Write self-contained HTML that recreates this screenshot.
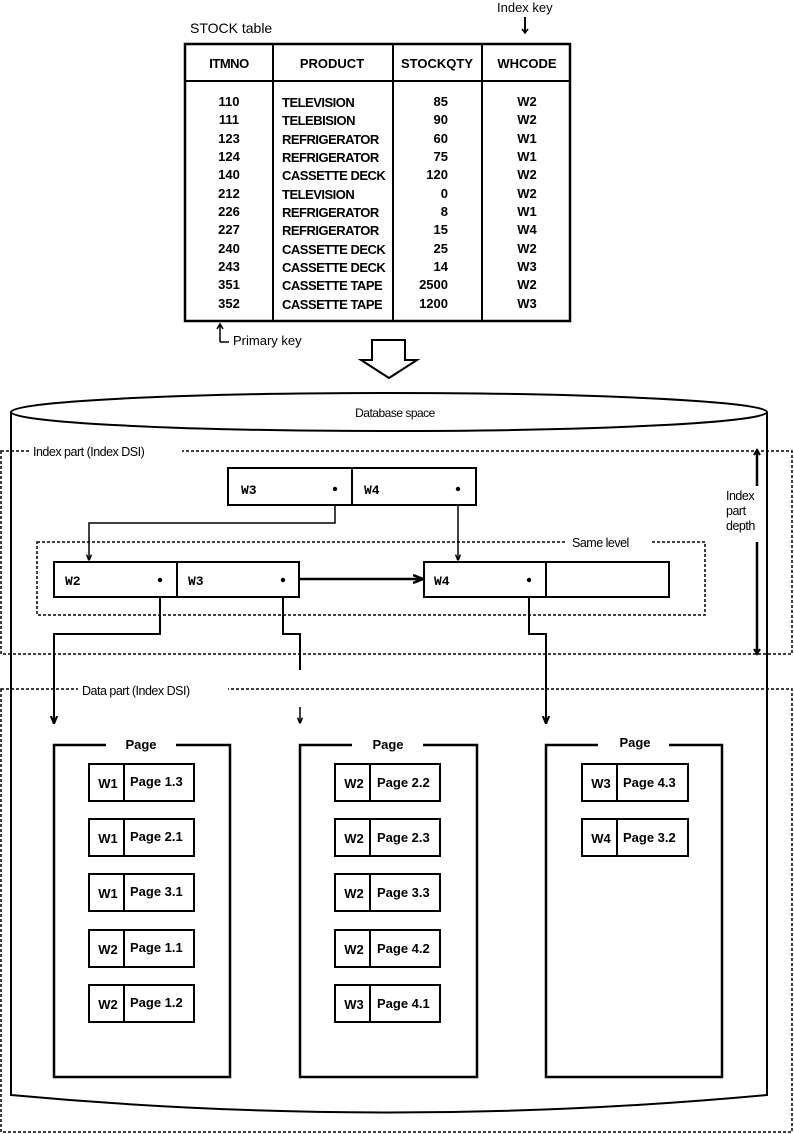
<!DOCTYPE html>
<html><head><meta charset="utf-8"><style>
html,body{margin:0;padding:0;background:#fff}
svg{display:block}
text{font-family:"Liberation Sans",sans-serif;font-size:13px;fill:#000}
.b{font-weight:bold}
.m{font-family:"Liberation Mono",monospace;font-weight:bold;font-size:14px}
</style></head><body>
<svg width="794" height="1134" viewBox="0 0 794 1134" xmlns="http://www.w3.org/2000/svg">
<defs>
<marker id="ah" viewBox="0 0 10 10" refX="9" refY="5" markerWidth="4" markerHeight="4" orient="auto"><path d="M0,1 L10,5 L0,9" fill="none" stroke="#000" stroke-width="2.5"/></marker>
</defs>
<!-- table -->
<text x="190" y="33" style="font-size:14px">STOCK table</text>
<text x="497" y="12" style="font-size:13px">Index key</text>
<line x1="525" y1="17" x2="525" y2="32" stroke="#000" stroke-width="2"/>
<path d="M522,29 L525,33 L528,29" fill="none" stroke="#000" stroke-width="1.5"/>
<rect x="185" y="44" width="385" height="277" fill="none" stroke="#000" stroke-width="2.5"/>
<line x1="185" y1="81" x2="570" y2="81" stroke="#000" stroke-width="2"/>
<line x1="273" y1="44" x2="273" y2="321" stroke="#000" stroke-width="2"/>
<line x1="393" y1="44" x2="393" y2="321" stroke="#000" stroke-width="2"/>
<line x1="482" y1="44" x2="482" y2="321" stroke="#000" stroke-width="2"/>
<g class="b" style="font-size:14px">
<text x="229" y="68" text-anchor="middle" style="letter-spacing:-0.5px">ITMNO</text>
<text x="332" y="68" text-anchor="middle">PRODUCT</text>
<text x="437" y="68" text-anchor="middle">STOCKQTY</text>
<text x="527" y="68" text-anchor="middle">WHCODE</text>
</g>
<g class="m" style="font-size:14px">
<text x="229" y="106" text-anchor="middle">110</text>
<text x="229" y="124" text-anchor="middle">111</text>
<text x="229" y="143" text-anchor="middle">123</text>
<text x="229" y="161" text-anchor="middle">124</text>
<text x="229" y="179" text-anchor="middle">140</text>
<text x="229" y="198" text-anchor="middle">212</text>
<text x="229" y="216" text-anchor="middle">226</text>
<text x="229" y="234" text-anchor="middle">227</text>
<text x="229" y="253" text-anchor="middle">240</text>
<text x="229" y="271" text-anchor="middle">243</text>
<text x="229" y="289" text-anchor="middle">351</text>
<text x="229" y="308" text-anchor="middle">352</text>
<text x="448" y="106" text-anchor="end">85</text>
<text x="448" y="124" text-anchor="end">90</text>
<text x="448" y="143" text-anchor="end">60</text>
<text x="448" y="161" text-anchor="end">75</text>
<text x="448" y="179" text-anchor="end">120</text>
<text x="448" y="198" text-anchor="end">0</text>
<text x="448" y="216" text-anchor="end">8</text>
<text x="448" y="234" text-anchor="end">15</text>
<text x="448" y="253" text-anchor="end">25</text>
<text x="448" y="271" text-anchor="end">14</text>
<text x="448" y="289" text-anchor="end">2500</text>
<text x="448" y="308" text-anchor="end">1200</text>
<text x="527" y="106" text-anchor="middle">W2</text>
<text x="527" y="124" text-anchor="middle">W2</text>
<text x="527" y="143" text-anchor="middle">W1</text>
<text x="527" y="161" text-anchor="middle">W1</text>
<text x="527" y="179" text-anchor="middle">W2</text>
<text x="527" y="198" text-anchor="middle">W2</text>
<text x="527" y="216" text-anchor="middle">W1</text>
<text x="527" y="234" text-anchor="middle">W4</text>
<text x="527" y="253" text-anchor="middle">W2</text>
<text x="527" y="271" text-anchor="middle">W3</text>
<text x="527" y="289" text-anchor="middle">W2</text>
<text x="527" y="308" text-anchor="middle">W3</text>
</g>
<g class="b" style="font-size:12.5px;letter-spacing:-0.5px">
<text x="282" y="107">TELEVISION</text>
<text x="282" y="125">TELEBISION</text>
<text x="282" y="144">REFRIGERATOR</text>
<text x="282" y="162">REFRIGERATOR</text>
<text x="282" y="180">CASSETTE DECK</text>
<text x="282" y="199">TELEVISION</text>
<text x="282" y="217">REFRIGERATOR</text>
<text x="282" y="235">REFRIGERATOR</text>
<text x="282" y="254">CASSETTE DECK</text>
<text x="282" y="272">CASSETTE DECK</text>
<text x="282" y="290">CASSETTE TAPE</text>
<text x="282" y="309">CASSETTE TAPE</text>
</g>
<path d="M220,342 L220,325 M217,329 L220,324 L223,329 M220,342 L229,342" fill="none" stroke="#000" stroke-width="1.5"/>
<text x="233" y="345">Primary key</text>
<!-- hollow arrow -->
<path d="M372,340 L405,340 L405,360 L417,360 L389,378 L361,360 L372,360 Z" fill="#fff" stroke="#000" stroke-width="2"/>
<!-- cylinder -->
<path d="M11,412 L11,1095 Q389,1130 767,1095 L767,412" fill="none" stroke="#000" stroke-width="2"/>
<ellipse cx="389" cy="412" rx="378" ry="19" fill="#fff" stroke="#000" stroke-width="2"/>
<text x="395" y="417" text-anchor="middle" style="font-size:12px;letter-spacing:-0.5px">Database space</text>
<!-- index part -->
<rect x="1" y="451" width="791" height="203" fill="none" stroke="#000" stroke-width="1.5" stroke-dasharray="3,2"/>
<rect x="30" y="443" width="152" height="16" fill="#fff"/>
<text x="33" y="456" style="font-size:12.5px;letter-spacing:-0.5px">Index part (Index DSI)</text>
<!-- depth -->
<line x1="757" y1="452" x2="757" y2="486" stroke="#000" stroke-width="2.5"/>
<line x1="757" y1="542" x2="757" y2="652" stroke="#000" stroke-width="2.5"/>
<path d="M754,455 L757,450 L760,455 M754,649 L757,654 L760,649" fill="none" stroke="#000" stroke-width="2"/>
<text x="726" y="500" style="font-size:12.5px;letter-spacing:-0.5px">Index</text>
<text x="726" y="515" style="font-size:12.5px;letter-spacing:-0.5px">part</text>
<text x="726" y="530" style="font-size:12.5px;letter-spacing:-0.5px">depth</text>
<!-- top node -->
<rect x="228" y="468" width="248" height="37" fill="#fff" stroke="#000" stroke-width="2"/>
<line x1="352" y1="468" x2="352" y2="505" stroke="#000" stroke-width="2"/>
<text x="241" y="494" class="m" style="font-size:13px">W3</text>
<text x="364" y="494" class="m" style="font-size:13px">W4</text>
<circle cx="335" cy="489" r="2.2"/><circle cx="458" cy="489" r="2.2"/>
<!-- same level -->
<rect x="37" y="542" width="668" height="73" fill="none" stroke="#000" stroke-width="1.5" stroke-dasharray="3,2"/>
<rect x="566" y="535" width="84" height="14" fill="#fff"/>
<text x="572" y="547" style="font-size:12.5px;letter-spacing:-0.5px">Same level</text>
<path d="M335,505 L335,523 L89,523 L89,560" fill="none" stroke="#000" stroke-width="1.5" marker-end="url(#ah)"/>
<line x1="458" y1="505" x2="458" y2="560" stroke="#000" stroke-width="1.5" marker-end="url(#ah)"/>
<rect x="54" y="562" width="245" height="35" fill="#fff" stroke="#000" stroke-width="2"/>
<line x1="177" y1="562" x2="177" y2="597" stroke="#000" stroke-width="2"/>
<text x="65" y="585" class="m" style="font-size:13px">W2</text>
<text x="188" y="585" class="m" style="font-size:13px">W3</text>
<circle cx="160" cy="580" r="2.2"/><circle cx="283" cy="580" r="2.2"/>
<rect x="424" y="562" width="245" height="35" fill="#fff" stroke="#000" stroke-width="2"/>
<line x1="546" y1="562" x2="546" y2="597" stroke="#000" stroke-width="2"/>
<text x="434" y="585" class="m" style="font-size:13px">W4</text>
<circle cx="529" cy="580" r="2.2"/>
<line x1="300" y1="579" x2="422" y2="579" stroke="#000" stroke-width="2.5" marker-end="url(#ah)"/>
<!-- down links -->
<path d="M160,597 L160,634 L54,634 L54,723" fill="none" stroke="#000" stroke-width="2" marker-end="url(#ah)"/>
<path d="M283,597 L283,634 L300,634 L300,670" fill="none" stroke="#000" stroke-width="2"/>
<line x1="300" y1="707" x2="300" y2="723" stroke="#000" stroke-width="1.5" marker-end="url(#ah)"/>
<path d="M529,597 L529,634 L546,634 L546,723" fill="none" stroke="#000" stroke-width="2" marker-end="url(#ah)"/>
<!-- data part -->
<rect x="1" y="689" width="791" height="443" fill="none" stroke="#000" stroke-width="1.5" stroke-dasharray="3,2"/>
<rect x="78" y="682" width="150" height="16" fill="#fff"/>
<text x="82" y="695" style="font-size:12.5px;letter-spacing:-0.5px">Data part (Index DSI)</text>
<!-- pages -->
<g fill="none" stroke="#000" stroke-width="2.5">
<path d="M106,745 L54,745 L54,1077 L230,1077 L230,745 L176,745"/>
<path d="M352,745 L300,745 L300,1077 L477,1077 L477,745 L423,745"/>
<path d="M598,745 L546,745 L546,1077 L722,1077 L722,745 L669,745"/>
</g>
<text x="141" y="749" text-anchor="middle" class="b">Page</text>
<text x="388" y="749" text-anchor="middle" class="b">Page</text>
<text x="635" y="747" text-anchor="middle" class="b">Page</text>
<g fill="none" stroke="#000" stroke-width="2">
<rect x="89" y="764" width="105" height="37"/><line x1="124" y1="764" x2="124" y2="801"/>
<rect x="89" y="819" width="105" height="37"/><line x1="124" y1="819" x2="124" y2="856"/>
<rect x="89" y="874" width="105" height="37"/><line x1="124" y1="874" x2="124" y2="911"/>
<rect x="89" y="930" width="105" height="37"/><line x1="124" y1="930" x2="124" y2="967"/>
<rect x="89" y="985" width="105" height="37"/><line x1="124" y1="985" x2="124" y2="1022"/>
<rect x="335" y="764" width="105" height="37"/><line x1="370" y1="764" x2="370" y2="801"/>
<rect x="335" y="819" width="105" height="37"/><line x1="370" y1="819" x2="370" y2="856"/>
<rect x="335" y="874" width="105" height="37"/><line x1="370" y1="874" x2="370" y2="911"/>
<rect x="335" y="930" width="105" height="37"/><line x1="370" y1="930" x2="370" y2="967"/>
<rect x="335" y="985" width="105" height="37"/><line x1="370" y1="985" x2="370" y2="1022"/>
<rect x="582" y="764" width="106" height="37"/><line x1="617" y1="764" x2="617" y2="801"/>
<rect x="582" y="819" width="106" height="37"/><line x1="617" y1="819" x2="617" y2="856"/>
</g>
<g class="m" style="font-size:13px">
<text x="108" y="788" text-anchor="middle">W1</text><text x="108" y="843" text-anchor="middle">W1</text><text x="108" y="898" text-anchor="middle">W1</text><text x="108" y="954" text-anchor="middle">W2</text><text x="108" y="1009" text-anchor="middle">W2</text>
<text x="354" y="788" text-anchor="middle">W2</text><text x="354" y="843" text-anchor="middle">W2</text><text x="354" y="898" text-anchor="middle">W2</text><text x="354" y="954" text-anchor="middle">W2</text><text x="354" y="1009" text-anchor="middle">W3</text>
<text x="601" y="788" text-anchor="middle">W3</text><text x="601" y="843" text-anchor="middle">W4</text>
</g>
<g class="b">
<text x="130" y="786">Page 1.3</text><text x="130" y="841">Page 2.1</text><text x="130" y="896">Page 3.1</text><text x="130" y="952">Page 1.1</text><text x="130" y="1007">Page 1.2</text>
<text x="377" y="787">Page 2.2</text><text x="377" y="842">Page 2.3</text><text x="377" y="897">Page 3.3</text><text x="377" y="953">Page 4.2</text><text x="377" y="1008">Page 4.1</text>
<text x="623" y="787">Page 4.3</text><text x="623" y="842">Page 3.2</text>
</g>
</svg>
</body></html>
